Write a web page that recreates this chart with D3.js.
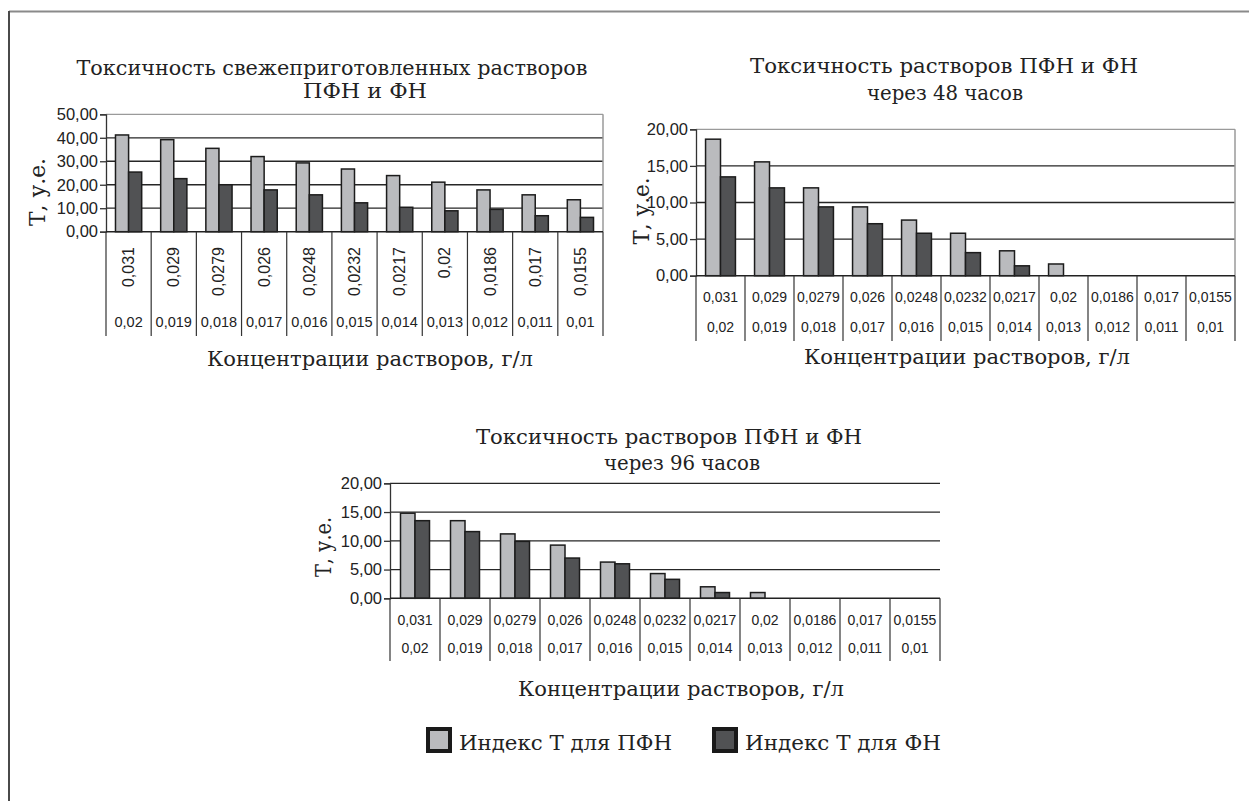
<!DOCTYPE html>
<html>
<head>
<meta charset="utf-8">
<script src="https://cdn.jsdelivr.net/npm/d3@7/dist/d3.min.js"></script>
<style>
  html, body { margin: 0; padding: 0; background: #fff; }
  svg { display: block; }
</style>
</head>
<body>
<svg id="fig" width="1249" height="801"></svg>
<script>
// Concentrations of the two solutions (two rows of category labels)
const concPFN = ["0,031", "0,029", "0,0279", "0,026", "0,0248", "0,0232", "0,0217", "0,02", "0,0186", "0,017", "0,0155"];
const concFN  = ["0,02", "0,019", "0,018", "0,017", "0,016", "0,015", "0,014", "0,013", "0,012", "0,011", "0,01"];

// Toxicity index T, freshly prepared solutions
const freshPFN = [41.2, 39.2, 35.5, 32.0, 29.3, 26.7, 23.9, 21.1, 17.8, 15.7, 13.6];
const freshFN  = [25.4, 22.6, 20.0, 17.8, 15.7, 12.3, 10.4, 8.9, 9.5, 6.8, 6.1];

// Toxicity index T after 48 hours
const h48PFN = [18.65, 15.55, 12.0, 9.4, 7.6, 5.8, 3.4, 1.6, 0, 0, 0];
const h48FN  = [13.5, 12.0, 9.4, 7.1, 5.8, 3.15, 1.35, 0, 0, 0, 0];

// Toxicity index T after 96 hours
const h96PFN = [14.8, 13.5, 11.2, 9.25, 6.3, 4.3, 2.0, 1.0, 0, 0, 0];
const h96FN  = [13.5, 11.6, 9.9, 7.0, 6.0, 3.3, 1.0, 0, 0, 0, 0];

// Value axis ticks
const ticksFresh = [0, 10, 20, 30, 40, 50];
const ticksAged  = [0, 5, 10, 15, 20];

const seriesNames = ["Индекс Т для ПФН", "Индекс Т для ФН"];
const seriesFill  = ["#babbbe", "#515254"];
const xTitle = "Концентрации растворов, г/л";
const yTitle = "Т, у.е.";

const svg = d3.select("#fig");
const SERIF = "\"DejaVu Serif Condensed\", \"Liberation Serif\", serif";
const SANS = "\"Liberation Sans\", Arial, sans-serif";
const fmt = v => d3.format(".2f")(v).replace(".", ",");

// page frame
svg.append("line").attr("x1", 9).attr("y1", 11.5).attr("x2", 1249).attr("y2", 11.5)
  .attr("stroke", "#8a8a8a").attr("stroke-width", 2);
svg.append("line").attr("x1", 9).attr("y1", 11).attr("x2", 9).attr("y2", 801)
  .attr("stroke", "#4a4a4a").attr("stroke-width", 2);

function drawChart(o) {
  const g = svg.append("g");
  const x = d3.scaleBand().domain(d3.range(concPFN.length)).range([o.left, o.right]).padding(0);
  const bw = x.bandwidth();
  const sub = d3.scaleBand().domain([0, 1])
    .range([bw * (1 - o.pair) / 2, bw * (1 + o.pair) / 2]).padding(0);
  const y = d3.scaleLinear().domain([0, o.ticks[o.ticks.length - 1]]).range([o.bottom, o.top]);

  // gridlines
  g.selectAll(".grid").data(o.ticks.filter(t => t > 0)).join("line")
    .attr("x1", o.left).attr("x2", o.right)
    .attr("y1", d => y(d)).attr("y2", d => y(d))
    .attr("stroke", (d, i, a) => (o.frame && i === a.length - 1) ? "#9a9a9a" : "#262626")
    .attr("stroke-width", 1.3);
  if (o.frame) {
    g.append("line").attr("x1", o.right).attr("x2", o.right).attr("y1", o.top).attr("y2", o.bottom)
      .attr("stroke", "#9a9a9a").attr("stroke-width", 1.5);
  }

  // bars
  const series = [o.a, o.b];
  series.forEach((vals, s) => {
    g.selectAll(".bar" + s).data(vals.map((v, i) => ({ v, i }))).join("rect")
      .filter(d => d.v > 0)
      .attr("x", d => x(d.i) + sub(s))
      .attr("width", sub.bandwidth())
      .attr("y", d => y(d.v))
      .attr("height", d => y(0) - y(d.v))
      .attr("fill", seriesFill[s])
      .attr("stroke", "#1c1c1c").attr("stroke-width", 1.5);
  });

  // value axis
  const ax = g.append("g").attr("transform", `translate(${o.left},0)`)
    .call(d3.axisLeft(y).tickValues(o.ticks).tickFormat(fmt).tickSize(6).tickPadding(2));
  ax.select(".domain").attr("stroke", "#333").attr("stroke-width", 1.3);
  ax.selectAll(".tick line").attr("stroke", "#333").attr("stroke-width", 1.3);
  ax.selectAll("text").style("font-family", SANS).style("font-size", "16.5px").attr("fill", "#222");

  // category axis line and dividers
  g.append("line").attr("x1", o.left).attr("x2", o.right).attr("y1", y(0)).attr("y2", y(0))
    .attr("stroke", "#222").attr("stroke-width", 1.5);
  g.selectAll(".div").data(d3.range(concPFN.length + 1)).join("line")
    .attr("x1", i => o.left + i * bw).attr("x2", i => o.left + i * bw)
    .attr("y1", y(0)).attr("y2", o.divBottom)
    .attr("stroke", "#333").attr("stroke-width", 1.2);

  // category labels, first row
  const r1 = g.selectAll(".r1").data(concPFN).join("text")
    .style("font-family", SANS).style("font-size", o.row1Size + "px").attr("fill", "#222")
    .text(d => d);
  if (o.rotate) {
    r1.attr("transform", (d, i) => `translate(${x(i) + bw / 2},${o.row1}) rotate(-90)`)
      .attr("text-anchor", "end").attr("dominant-baseline", "central");
  } else {
    r1.attr("x", (d, i) => x(i) + bw / 2).attr("y", o.row1)
      .attr("text-anchor", "middle").attr("dominant-baseline", "central");
  }
  // category labels, second row
  g.selectAll(".r2").data(concFN).join("text")
    .style("font-family", SANS).style("font-size", o.labelSize + "px").attr("fill", "#222")
    .attr("x", (d, i) => x(i) + bw / 2).attr("y", o.row2)
    .attr("text-anchor", "middle").attr("dominant-baseline", "central")
    .text(d => d);

  // titles
  o.title.forEach(t => {
    g.append("text").attr("x", t.x).attr("y", t.y)
      .attr("text-anchor", "middle").style("font-family", SERIF).style("font-size", "21px")
      .attr("fill", "#222").attr("textLength", t.w).attr("lengthAdjust", "spacingAndGlyphs")
      .text(t.text);
  });
  g.append("text").attr("x", o.xt.x).attr("y", o.xt.y)
    .attr("text-anchor", "middle").style("font-family", SERIF).style("font-size", "21px")
    .attr("fill", "#222").attr("textLength", 326).attr("lengthAdjust", "spacingAndGlyphs")
    .text(xTitle);
  g.append("text")
    .attr("transform", `translate(${o.yt.x},${o.yt.y}) rotate(-90)`)
    .attr("text-anchor", "middle").attr("dominant-baseline", "central")
    .style("font-family", SERIF).style("font-size", "23px").attr("fill", "#222")
    .attr("textLength", o.yt.w).attr("lengthAdjust", "spacingAndGlyphs")
    .text(yTitle);
}

drawChart({
  left: 106, right: 603, top: 114.3, bottom: 231.7, ticks: ticksFresh, frame: true,
  a: freshPFN, b: freshFN, pair: 0.58, rotate: true, labelSize: 14.5, row1Size: 16,
  row1: 247, row2: 322, divBottom: 336,
  title: [
    { text: "Токсичность свежеприготовленных растворов", x: 332, y: 75, w: 511 },
    { text: "ПФН и ФН", x: 365, y: 98, w: 124 }
  ],
  xt: { x: 370, y: 366 }, yt: { x: 37, y: 192, w: 68 }
});

drawChart({
  left: 696, right: 1235, top: 129.3, bottom: 275.7, ticks: ticksAged, frame: true,
  a: h48PFN, b: h48FN, pair: 0.61, rotate: false, labelSize: 14, row1Size: 14,
  row1: 297, row2: 327, divBottom: 341,
  title: [
    { text: "Токсичность растворов ПФН и ФН", x: 944, y: 73, w: 388 },
    { text: "через 48 часов", x: 945, y: 100, w: 156 }
  ],
  xt: { x: 967, y: 364 }, yt: { x: 641, y: 211, w: 67 }
});

drawChart({
  left: 390, right: 940, top: 483.3, bottom: 598.3, ticks: ticksAged, frame: false,
  a: h96PFN, b: h96FN, pair: 0.58, rotate: false, labelSize: 14, row1Size: 14,
  row1: 620, row2: 648, divBottom: 661,
  title: [
    { text: "Токсичность растворов ПФН и ФН", x: 669, y: 444, w: 386 },
    { text: "через 96 часов", x: 682, y: 470, w: 156 }
  ],
  xt: { x: 681, y: 696 }, yt: { x: 323, y: 547, w: 60 }
});

// legend
const legend = svg.append("g");
const legendX = [426, 712];
seriesNames.forEach((name, i) => {
  legend.append("rect").attr("x", legendX[i] + 2).attr("y", 729).attr("width", 22).attr("height", 22)
    .attr("fill", seriesFill[i]).attr("stroke", "#1a1a1a").attr("stroke-width", 4);
  legend.append("text").attr("x", legendX[i] + 33).attr("y", 750)
    .style("font-family", SERIF).style("font-size", "21px").attr("fill", "#222")
    .attr("textLength", i === 0 ? 213 : 196).attr("lengthAdjust", "spacingAndGlyphs")
    .text(name);
});
</script>
</body>
</html>
